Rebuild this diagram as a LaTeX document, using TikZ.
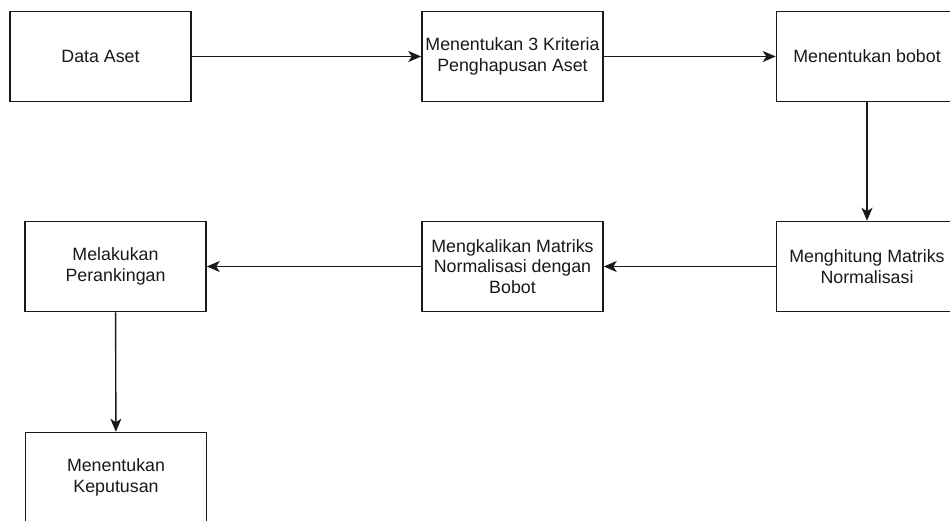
\documentclass[tikz,border=0pt]{standalone}
\usepackage{fontspec}
\setmainfont{Liberation Sans}
\usetikzlibrary{arrows.meta}
\begin{document}
\begin{tikzpicture}[x=1pt,y=-1pt,
  stepbox/.style={draw=black!90,line width=1.5pt,fill=white,inner sep=0pt,
    minimum width=181pt,minimum height=90pt,align=center,text=black!90,
    font=\fontsize{17.8}{20.4}\selectfont},
  flow/.style={line width=1.4pt,draw=black!90,
    -{Stealth[length=13pt,width=11pt,inset=3.5pt]}}]
\useasboundingbox (0,0) rectangle (950,520);
\node[stepbox] (data)  at (100.5,56.5) {Data Aset};
\node[stepbox] (krit)  at (512.5,56.5) {Menentukan 3 Kriteria\\Penghapusan Aset};
\node[stepbox] (bobot) at (867,56.5)   {Menentukan bobot};
\node[stepbox] (norm)  at (867,266.5)  {Menghitung Matriks\\Normalisasi};
\node[stepbox] (kali)  at (512.5,266.5) {Mengkalikan Matriks\\Normalisasi dengan\\Bobot};
\node[stepbox] (rank)  at (115.5,266.5) {Melakukan\\Perankingan};
\node[stepbox] (kep)   at (116,477.5)  {Menentukan\\Keputusan};
\draw[flow] (data) -- (krit);
\draw[flow] (krit) -- (bobot);
\draw[flow] (bobot) -- (norm);
\draw[flow] (norm) -- (kali);
\draw[flow] (kali) -- (rank);
\draw[flow] (rank) -- (kep);
\end{tikzpicture}
\end{document}
